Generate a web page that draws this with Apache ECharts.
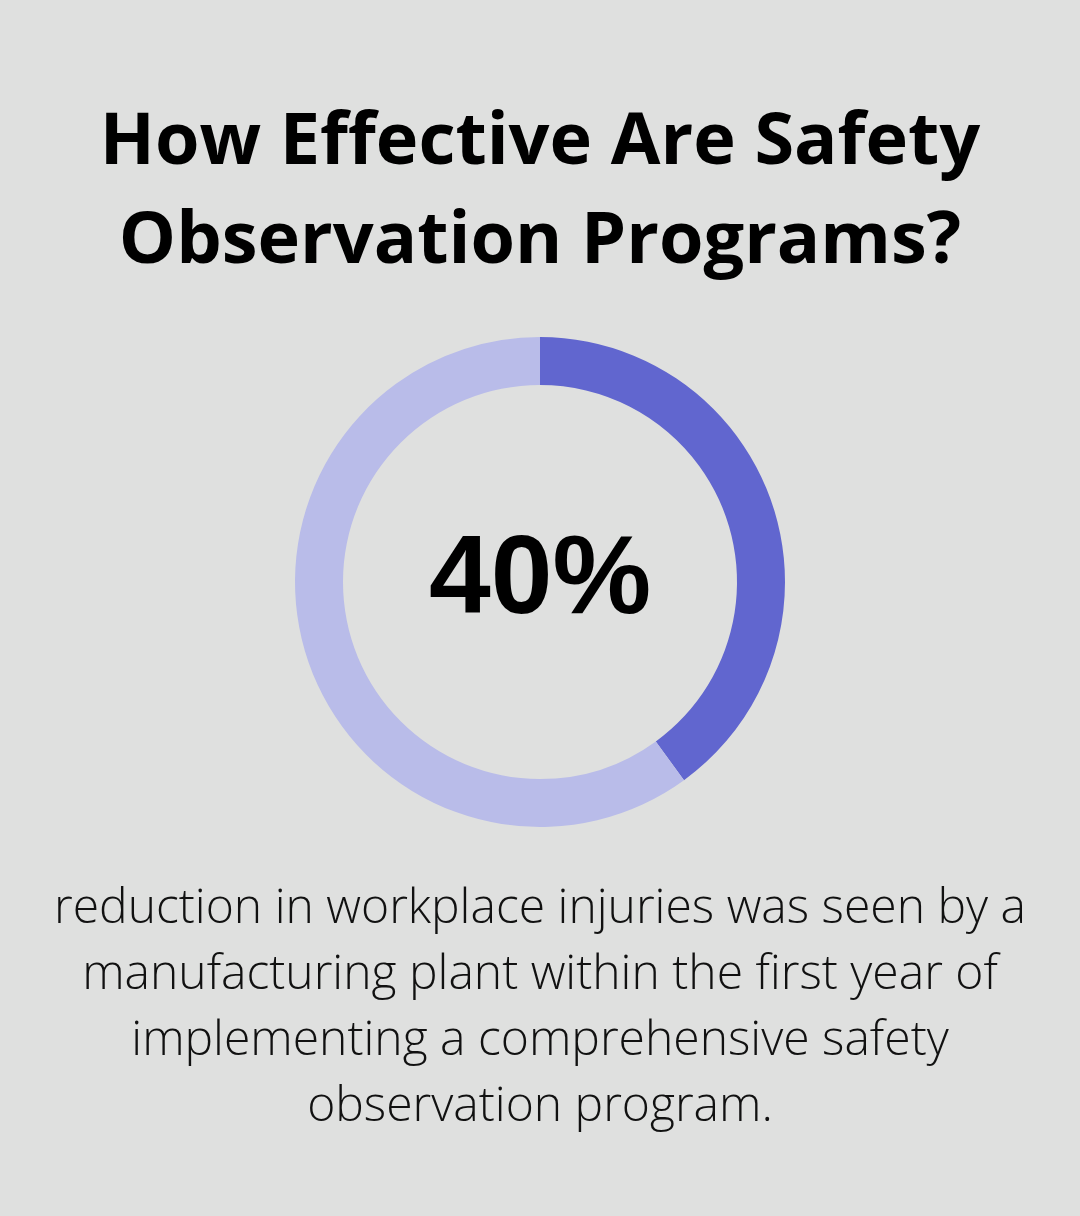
<!DOCTYPE html>
<html>
<head>
<meta charset="utf-8">
<script src="https://cdn.jsdelivr.net/npm/echarts@6/dist/echarts.min.js"></script>
<style>
html,body{margin:0;padding:0;background:#dfe0df;}
#c{width:1080px;height:1216px;}
</style>
</head>
<body>
<div id="c"></div>
<script>
const titleLines = ["How Effective Are Safety", "Observation Programs?"];
const categories = ["Reduction in injuries", "Remainder"];
const values = [40, 60];
const centerLabel = "40%";
const bodyLines = [
  "reduction in workplace injuries was seen by a",
  "manufacturing plant within the first year of",
  "implementing a comprehensive safety",
  "observation program."
];
const colors = ["#6166cf", "#b9bce9"];

const chart = echarts.init(document.getElementById('c'));
const graphics = [];
titleLines.forEach((t, i) => {
  graphics.push({
    type: 'text', left: 'center', top: 107 + i * 99,
    style: { text: t, font: 'bold 72px "Open Sans"', fill: '#000' }
  });
});
bodyLines.forEach((t, i) => {
  graphics.push({
    type: 'text', left: 'center', top: 885 + i * 66,
    style: { text: t, font: '300 48px "Open Sans"', fill: '#111' }
  });
});
graphics.push({
  type: 'text', left: 'center', top: 527,
  style: { text: centerLabel, font: 'bold 111px "Liberation Sans"', fill: '#000' }
});

chart.setOption({
  backgroundColor: '#dfe0df',
  animation: false,
  graphic: graphics,
  series: [{
    type: 'pie',
    center: [540, 582],
    radius: [197, 245],
    startAngle: 90,
    clockwise: true,
    silent: true,
    label: { show: false },
    labelLine: { show: false },
    itemStyle: { borderWidth: 0 },
    data: categories.map((c, i) => ({ name: c, value: values[i], itemStyle: { color: colors[i] } }))
  }]
});
</script>
</body>
</html>
